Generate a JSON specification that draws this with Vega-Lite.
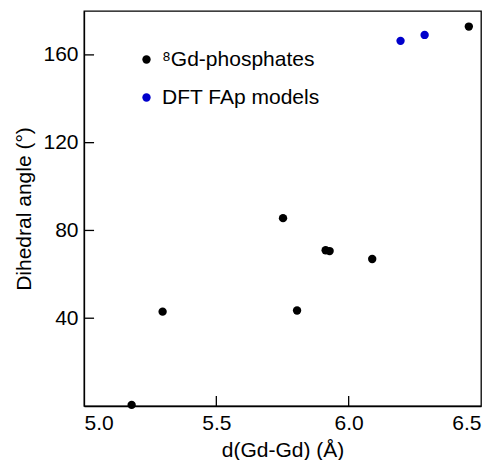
{
  "$schema": "https://vega.github.io/schema/vega-lite/v6.json",
  "width": 397,
  "height": 395,
  "autosize": {"type": "none"},
  "padding": {"left": 84, "top": 11, "right": 16, "bottom": 54},
  "background": "white",
  "config": {
    "view": {"stroke": "black", "strokeWidth": 1.3},
    "font": "Liberation Sans"
  },
  "datasets": {
    "points": [
      {"d": 5.18, "angle": 0.5, "group": "⁸Gd-phosphates"},
      {"d": 5.297, "angle": 43, "group": "⁸Gd-phosphates"},
      {"d": 5.805, "angle": 43.5, "group": "⁸Gd-phosphates"},
      {"d": 5.752, "angle": 85.6, "group": "⁸Gd-phosphates"},
      {"d": 5.913, "angle": 71, "group": "⁸Gd-phosphates"},
      {"d": 5.928, "angle": 70.6, "group": "⁸Gd-phosphates"},
      {"d": 6.089, "angle": 67, "group": "⁸Gd-phosphates"},
      {"d": 6.454, "angle": 172.9, "group": "⁸Gd-phosphates"},
      {"d": 6.196, "angle": 166.4, "group": "DFT FAp models"},
      {"d": 6.287, "angle": 169.1, "group": "DFT FAp models"}
    ],
    "xticks": [{"d": 5.5}, {"d": 6.0}],
    "yticks": [{"angle": 40}, {"angle": 80}, {"angle": 120}, {"angle": 160}]
  },
  "layer": [
    {
      "data": {"name": "points"},
      "mark": {"type": "point", "filled": true, "opacity": 1, "size": 70},
      "encoding": {
        "x": {
          "field": "d",
          "type": "quantitative",
          "scale": {"domain": [5.0, 6.5], "nice": false, "zero": false},
          "axis": {
            "values": [5.0, 5.5, 6.0, 6.5], "format": ".1f", "title": "d(Gd-Gd) (Å)",
            "grid": false, "domainColor": "black", "domainWidth": 1.3,
            "ticks": false, "labelPadding": 6,
            "labelFontSize": 21, "labelColor": "black",
            "titleFontSize": 21, "titleFontWeight": "normal", "titleColor": "black", "titlePadding": 6
          }
        },
        "y": {
          "field": "angle",
          "type": "quantitative",
          "scale": {"domain": [0, 180], "nice": false},
          "axis": {
            "values": [40, 80, 120, 160], "format": "d", "title": "Dihedral angle (°)",
            "grid": false, "domainColor": "black", "domainWidth": 1.3,
            "ticks": false, "labelPadding": 6,
            "labelFontSize": 21, "labelColor": "black",
            "titleFontSize": 21, "titleFontWeight": "normal", "titleColor": "black", "titlePadding": 8
          }
        },
        "color": {
          "field": "group",
          "type": "nominal",
          "scale": {"domain": ["⁸Gd-phosphates", "DFT FAp models"], "range": ["#000000", "#0000cc"]},
          "legend": {
            "title": null,
            "orient": "none",
            "legendX": 52,
            "legendY": 38,
            "labelFontSize": 21,
            "labelColor": "black",
            "symbolSize": 70,
            "symbolType": "circle",
            "symbolStrokeWidth": 0,
            "labelOffset": 5,
            "rowPadding": 16
          }
        }
      }
    },
    {
      "data": {"name": "xticks"},
      "mark": {"type": "rule", "color": "black", "strokeWidth": 1.3},
      "encoding": {
        "x": {"field": "d", "type": "quantitative"},
        "y": {"datum": 0},
        "y2": {"datum": 4.6}
      }
    },
    {
      "data": {"name": "yticks"},
      "mark": {"type": "rule", "color": "black", "strokeWidth": 1.3},
      "encoding": {
        "y": {"field": "angle", "type": "quantitative"},
        "x": {"datum": 5.0},
        "x2": {"datum": 5.038}
      }
    }
  ]
}
